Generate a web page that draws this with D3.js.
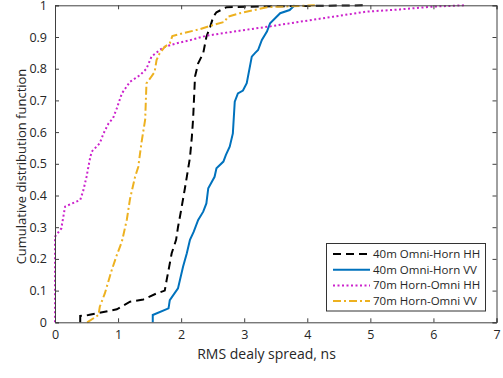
<!DOCTYPE html>
<html><head><meta charset="utf-8">
<script src="https://cdn.jsdelivr.net/npm/d3@7"></script>
<style>body{margin:0;background:#fff}svg{display:block}text{font-family:"Open Sans",sans-serif;fill:#262626}</style>
</head><body><svg id="c" width="503" height="378"></svg>
<script>
const xTicks=[0,1,2,3,4,5,6,7];
const yTicks=[0,0.1,0.2,0.3,0.4,0.5,0.6,0.7,0.8,0.9,1];
const seriesNames=["40m Omni-Horn HH","40m Omni-Horn VV","70m Horn-Omni HH","70m Horn-Omni VV"];
const hhOmniHorn40=[[0.4,0],[0.4,0.02],[0.53,0.023],[0.98,0.041],[1.19,0.065],[1.4,0.072],[1.61,0.091],[1.74,0.1],[1.77,0.133],[1.81,0.175],[1.85,0.218],[1.92,0.26],[1.95,0.3],[2.0,0.354],[2.06,0.423],[2.09,0.459],[2.14,0.52],[2.17,0.585],[2.19,0.643],[2.22,0.775],[2.27,0.817],[2.35,0.849],[2.4,0.9],[2.46,0.932],[2.51,0.964],[2.56,0.978],[2.72,0.994],[3.5,0.997],[4.95,1]];
const vvOmniHorn40=[[1.55,0],[1.55,0.023],[1.8,0.044],[1.82,0.07],[1.95,0.107],[2.03,0.175],[2.09,0.218],[2.14,0.26],[2.2,0.286],[2.27,0.323],[2.35,0.349],[2.4,0.375],[2.43,0.423],[2.53,0.459],[2.56,0.486],[2.67,0.507],[2.71,0.528],[2.77,0.554],[2.82,0.596],[2.85,0.696],[2.9,0.722],[2.98,0.731],[3.04,0.754],[3.12,0.838],[3.17,0.849],[3.22,0.859],[3.28,0.891],[3.36,0.917],[3.41,0.943],[3.57,0.975],[3.72,0.985],[3.8,1]];
const hhHornOmni70=[[0,0],[0,0.27],[0.1,0.296],[0.16,0.365],[0.4,0.386],[0.45,0.417],[0.5,0.459],[0.55,0.512],[0.58,0.538],[0.71,0.565],[0.77,0.596],[0.85,0.628],[0.92,0.644],[0.98,0.675],[1.06,0.722],[1.19,0.759],[1.35,0.78],[1.45,0.8],[1.53,0.838],[1.66,0.859],[1.74,0.869],[1.93,0.88],[2.14,0.89],[2.4,0.904],[2.83,0.917],[3.36,0.932],[3.88,0.948],[4.41,0.964],[4.94,0.98],[5.47,0.987],[6.0,0.996],[6.5,1]];
const vvHornOmni70=[[0.51,0],[0.69,0.023],[0.71,0.049],[0.79,0.091],[0.9,0.165],[0.98,0.212],[1.06,0.254],[1.14,0.325],[1.19,0.39],[1.27,0.459],[1.32,0.49],[1.37,0.565],[1.43,0.64],[1.45,0.754],[1.51,0.77],[1.58,0.79],[1.61,0.827],[1.66,0.849],[1.74,0.869],[1.82,0.88],[1.86,0.903],[2.03,0.912],[2.3,0.925],[2.51,0.938],[2.69,0.948],[2.74,0.964],[2.93,0.975],[3.36,0.994],[3.88,0.998],[4.12,1]];

const svg=d3.select("#c");
const L=55,R=496.5,T=5.3,B=322.3;
const x=d3.scaleLinear().domain([0,7]).range([L,R]);
const y=d3.scaleLinear().domain([0,1]).range([B,T]);
const axCol="#404040";
const styles=[
 {data:hhOmniHorn40,color:"#000000",dash:"8,5",w:2},
 {data:vvOmniHorn40,color:"#0072BD",dash:null,w:2},
 {data:hhHornOmni70,color:"#CC22CC",dash:"2,2.5",w:2},
 {data:vvHornOmni70,color:"#EDB120",dash:"8,3,2,3",w:2}
];
const line=d3.line().x(d=>x(d[0])).y(d=>y(d[1]));
svg.append("defs").append("clipPath").attr("id","cp").append("rect").attr("x",L-2).attr("y",T-2).attr("width",R-L+4).attr("height",B-T+4);
const g=svg.append("g").attr("clip-path","url(#cp)");
styles.forEach(s=>{
 g.append("path").attr("d",line(s.data)).attr("fill","none").attr("stroke",s.color).attr("stroke-width",s.w).attr("stroke-dasharray",s.dash);
});
// axes
const ax=svg.append("g");
ax.append("g").attr("transform",`translate(0,${B})`).call(d3.axisBottom(x).tickValues(xTicks).tickSize(-4).tickPadding(8).tickFormat(d3.format("d")));
ax.append("g").attr("transform",`translate(0,${T})`).call(d3.axisTop(x).tickValues(xTicks).tickSize(-4).tickFormat(""));
ax.append("g").attr("transform",`translate(${L},0)`).call(d3.axisLeft(y).tickValues(yTicks).tickSize(-4).tickPadding(8).tickFormat(d=>d===0||d===1?d3.format("d")(d):d3.format(".1f")(d)));
ax.append("g").attr("transform",`translate(${R},0)`).call(d3.axisRight(y).tickValues(yTicks).tickSize(-4).tickFormat(""));
ax.selectAll(".domain").attr("stroke",axCol).attr("stroke-width",1);
ax.selectAll(".tick line").attr("stroke",axCol);
ax.selectAll(".tick text").attr("font-size",12.5).attr("font-family","'Open Sans',sans-serif").attr("fill","#262626");
svg.append("text").attr("x",266.5).attr("y",359).attr("text-anchor","middle").attr("font-size",14).text("RMS dealy spread, ns");
svg.append("text").attr("transform","translate(26,166.5) rotate(-90)").attr("text-anchor","middle").attr("font-size",13).text("Cumulative distribution function");
svg.append("text").attr("x",261).attr("y",387).attr("text-anchor","middle").attr("font-size",13).text("(a)");
// legend
const lg=svg.append("g");
lg.append("rect").attr("x",326.5).attr("y",243.5).attr("width",159).attr("height",67.5).attr("fill","#fff").attr("stroke","#333").attr("stroke-width",1);
styles.forEach((s,i)=>{
 const yy=254+i*15.7;
 lg.append("line").attr("x1",333).attr("x2",370).attr("y1",yy).attr("y2",yy).attr("stroke",s.color).attr("stroke-width",2).attr("stroke-dasharray",s.dash);
 lg.append("text").attr("x",373).attr("y",yy+4).attr("font-size",11.5).text(seriesNames[i]);
});
</script></body></html>
